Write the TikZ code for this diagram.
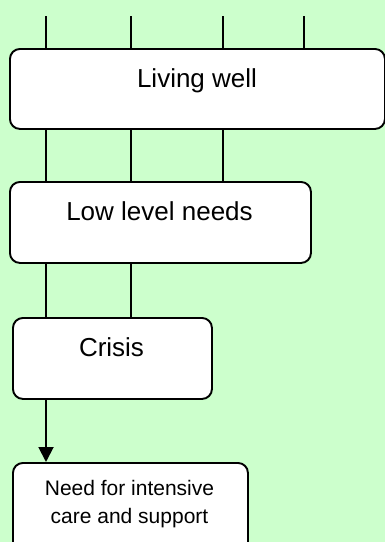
\documentclass[tikz,border=0pt]{standalone}
\usepackage{fontspec}
\setmainfont{Liberation Sans}
\usetikzlibrary{arrows.meta}
\definecolor{bggreen}{RGB}{204,255,204}
\tikzset{
  box/.style={draw=black, fill=white, line width=1.9pt, rounded corners=10pt, anchor=north west, inner sep=0pt},
  link/.style={draw=black, line width=1.9pt},
  bigtext/.style={font=\fontsize{26}{31}\selectfont, anchor=base, inner sep=0pt},
  smalltext/.style={font=\fontsize{21}{28}\selectfont, align=center, anchor=base, inner sep=0pt},
}
\begin{document}
\begin{tikzpicture}[x=1pt,y=-1pt]
\clip (0,0) rectangle (385,542);
\fill[bggreen] (0,0) rectangle (385,542);
% column positions
\coordinate (c1) at (46,16);
\coordinate (c2) at (130.7,16);
\coordinate (c3) at (222.7,16);
\coordinate (c4) at (304.3,16);
% boxes
\node[box, minimum width=375pt, minimum height=80pt] (lw) at (9,48) {};
\node[box, minimum width=301pt, minimum height=81pt] (ll) at (9,181) {};
\node[box, minimum width=199pt, minimum height=81pt] (cr) at (12,317) {};
\node[box, minimum width=235pt, minimum height=100pt] (nd) at (12,462) {};
% texts
\node[bigtext] (tlw) at (197,87.3) {Living well};
\node[bigtext] (tll) at (159.5,220.7) {Low level needs};
\node[bigtext] (tcr) at (111.5,356.7) {Crisis};
\node[smalltext] (tnd) at (129.5,523) {Need for intensive\\care and support};
% connectors
\foreach \c in {c1,c2,c3,c4} \draw[link] (\c) -- (lw.north -| \c);
\foreach \c in {c1,c2,c3} \draw[link] (lw.south -| \c) -- (ll.north -| \c);
\foreach \c in {c1,c2} \draw[link] (ll.south -| \c) -- (cr.north -| \c);
\draw[link, -{Triangle[width=15pt,length=15pt]}] (cr.south -| c1) -- (nd.north -| c1);
\end{tikzpicture}
\end{document}
